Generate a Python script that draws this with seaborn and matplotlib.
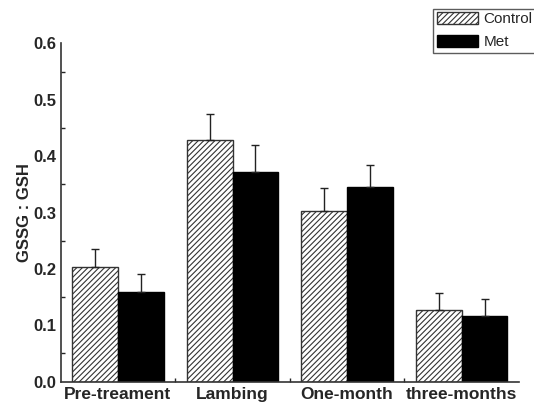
import matplotlib
matplotlib.use("Agg")
import matplotlib.pyplot as plt
import numpy as np
import pandas as pd
import seaborn as sns
from matplotlib.patches import Patch

# Sampling periods and treatment groups
periods = ["Pre-treament", "Lambing", "One-month", "three-months"]
groups = ["Control", "Met"]

# Mean GSSG:GSH ratio per period
control_mean = [0.204, 0.428, 0.303, 0.128]
met_mean = [0.159, 0.372, 0.346, 0.116]

# Standard error (upper bar only)
control_err = [0.032, 0.047, 0.040, 0.030]
met_err = [0.032, 0.047, 0.039, 0.030]

df = pd.DataFrame({
    "period": periods * 2,
    "group": [groups[0]] * 4 + [groups[1]] * 4,
    "ratio": control_mean + met_mean,
})

sns.set_style("white")
plt.rcParams["font.family"] = ["Liberation Sans", "DejaVu Sans"]
plt.rcParams["hatch.linewidth"] = 0.8

fig = plt.figure(figsize=(5.34, 4.07), dpi=100)
ax = fig.add_axes([0.1137, 0.0622, 0.858, 0.831])

sns.barplot(data=df, x="period", y="ratio", hue="group", order=periods,
            hue_order=groups, palette=["white", "black"], errorbar=None,
            width=0.8, saturation=1, ax=ax, legend=False)

# Style bars: hatched control, solid met
n = len(periods)
bars = ax.patches[:2 * n]
for i, p in enumerate(bars):
    if i < n:
        p.set_facecolor("white")
        p.set_edgecolor("#333333")
        p.set_hatch("//////")
        p.set_linewidth(1.0)
    else:
        p.set_facecolor("black")
        p.set_edgecolor("black")
        p.set_linewidth(1.0)

# Upper-only error bars at bar centres
means = control_mean + met_mean
errs = control_err + met_err
xs = [p.get_x() + p.get_width() / 2 for p in bars]
ax.errorbar(xs, means, yerr=[np.zeros(len(errs)), errs], fmt="none",
            ecolor="#222222", elinewidth=1.0, capsize=3, capthick=1.0, zorder=1)

ax.set_xlim(-0.5, 3.5)
ax.set_ylim(0, 0.6)
ax.set_yticks(np.arange(0, 0.61, 0.1))
ax.set_yticklabels([f"{v:.1f}" for v in np.arange(0, 0.61, 0.1)],
                   fontsize=12, fontweight="bold")
ax.set_yticks(np.arange(0.05, 0.6, 0.1), minor=True)
ax.tick_params(axis="y", which="major", direction="out", length=2, width=1, pad=1)
ax.tick_params(axis="y", which="minor", direction="in", length=3, width=1, left=True)

ax.set_xticks(range(n))
ax.set_xticklabels(periods, fontsize=12.5, fontweight="bold")
ax.tick_params(axis="x", which="major", length=0, pad=4)
ax.set_xticks([0.5, 1.5, 2.5], minor=True)
ax.tick_params(axis="x", which="minor", direction="in", length=3, width=1, bottom=True)

ax.set_xlabel("")
ax.set_ylabel("GSSG : GSH", fontsize=12, fontweight="bold", labelpad=1)

for s in ["top", "right"]:
    ax.spines[s].set_visible(False)
for s in ["left", "bottom"]:
    ax.spines[s].set_color("#333333")
    ax.spines[s].set_linewidth(1.2)

# Legend in the upper right corner of the figure
handles = [Patch(facecolor="white", edgecolor="#333333", hatch="//////", label="Control"),
           Patch(facecolor="black", edgecolor="black", label="Met")]
leg = fig.legend(handles=handles, loc="upper left", bbox_to_anchor=(433 / 534, 1 - 8.5 / 407),
                 fontsize=11, frameon=True, fancybox=False, edgecolor="#333333",
                 handlelength=2.7, handleheight=0.8, handletextpad=0.35,
                 borderpad=0.25, labelspacing=0.55, borderaxespad=0)
leg.get_frame().set_linewidth(1.0)

fig.savefig("out.png", dpi=100)
